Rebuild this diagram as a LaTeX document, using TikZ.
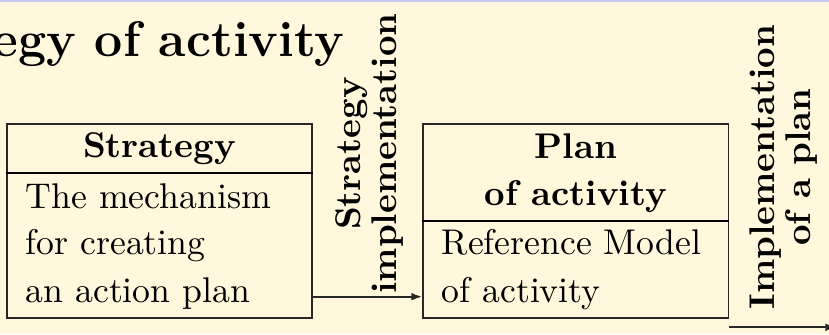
\documentclass[tikz,border=0pt]{standalone}
\usetikzlibrary{arrows.meta,fit}
\definecolor{paper}{RGB}{255,248,220}
\definecolor{bandblue}{RGB}{200,202,244}
\definecolor{ink}{RGB}{40,40,40}
\begin{document}
\begin{tikzpicture}[x=0.28pt,y=0.28pt,
  frame/.style={draw=ink,line width=0.5pt,inner sep=0pt},
  divider/.style={draw=black,line width=0.5pt},
  flow/.style={draw=ink,line width=0.5pt,-{Latex[length=3pt,width=2.2pt]}},
  head/.style={font=\fontsize{10}{12}\selectfont\bfseries,inner sep=0pt,anchor=base},
  body/.style={font=\fontsize{10}{12}\selectfont,inner sep=0pt,anchor=base west},
  side/.style={font=\fontsize{10}{12}\selectfont\bfseries,rotate=90,align=center,inner sep=0pt},
  title/.style={font=\fontsize{14}{17}\selectfont\bfseries,inner sep=0pt,anchor=base east}]
  % page and top band
  \fill[paper] (0,0) rectangle (829,334);
  \fill[bandblue] (0,332) rectangle (829,334);
  \useasboundingbox (0,0) rectangle (829,334);

  % heading of the diagram
  \node[title] (heading) at (345,277.3) {Strategy of activity};

  % strategy block
  \node[frame,fit={(7,16) (312,210)}] (sbox) {};
  \draw[divider] (sbox.west |- 0,161.3) -- (sbox.east |- 0,161.3);
  \node[head] (shead) at (159.5,176) {Strategy};
  \node[body] (s1) at (25,126) {The mechanism};
  \node[body] (s2) at (25,79) {for creating};
  \node[body] (s3) at (25,31) {an action plan};

  % plan block
  \node[frame,fit={(423,16) (728.5,210)}] (pbox) {};
  \draw[divider] (pbox.west |- 0,113) -- (pbox.east |- 0,113);
  \node[head] (phead1) at (575.7,175) {Plan};
  \node[head] (phead2) at (575.7,129) {of activity};
  \node[body] (p1) at (441,79) {Reference Model};
  \node[body] (p2) at (441,31.3) {of activity};

  % transitions
  \node[side] (simpl) at (369.5,180.5) {Strategy\\[-1.9pt]implementation};
  \node[side] (pimpl) at (783.5,167) {Implementation\\[-1.9pt]of a plan};
  \coordinate (out) at (836,6.7);
  \draw[flow] (sbox.east |- 0,37.3) -- (pbox.west |- 0,37.3);
  \draw[flow] (pbox.east |- out) -- (out);
\end{tikzpicture}
\end{document}
